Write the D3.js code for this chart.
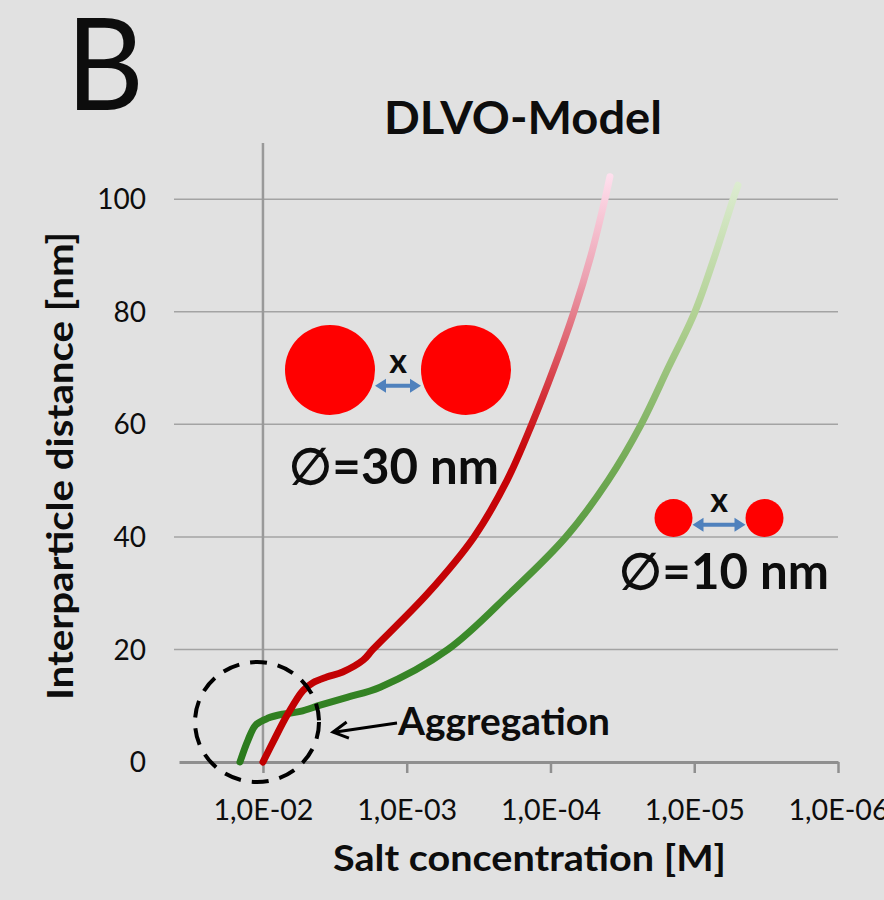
<!DOCTYPE html>
<html>
<head>
<meta charset="utf-8">
<script src="https://cdn.jsdelivr.net/npm/d3@7"></script>
<style>
  html, body { margin: 0; padding: 0; background: #e1e1e1; }
  text { font-family: Lato, "Open Sans", sans-serif; fill: #0d0d0d; }
</style>
</head>
<body>
<div id="my_dataviz"></div>
<script>
// salt concentration [M] and interparticle distance [nm]
let conc30 = [1.0e-2, 8.26e-3, 6.8e-3, 5.27e-3, 4.49e-3, 3.6e-3, 2.79e-3, 2.01e-3, 1.72e-3, 7.11e-4,
    3.40e-4, 2.01e-4, 1.35e-4, 9.46e-5, 6.87e-5, 5.23e-5, 4.18e-5, 3.86e-5];
let dist30 = [0, 4.2, 8.3, 12.7, 14.1, 15.1, 16.0, 18.1, 20, 30,
    40, 50, 60, 70, 80, 90, 100, 104];

let conc10 = [1.445e-2, 1.27e-2, 1.12e-2, 9.2e-3, 7.3e-3, 5.5e-3, 4.0e-3, 2.6e-3, 1.53e-3, 5.16e-4,
    1.91e-4, 7.80e-5, 3.98e-5, 2.34e-5, 1.52e-5, 9.89e-6, 7.18e-6, 5.37e-6, 4.96e-6];
let dist10 = [0, 3.9, 6.6, 7.8, 8.5, 9.0, 10.1, 11.5, 13.3, 20,
    30, 40, 50, 60, 70, 80, 90, 100, 102.5];

let xTicks = [1e-2, 1e-3, 1e-4, 1e-5, 1e-6];
let xTickLabels = ["1,0E-02", "1,0E-03", "1,0E-04", "1,0E-05", "1,0E-06"];
let yTicks = [0, 20, 40, 60, 80, 100];

let margin = {top: 143, right: 46, bottom: 138, left: 179},
    width = 884 - margin.left - margin.right,
    height = 900 - margin.top - margin.bottom;

let root = d3.select("#my_dataviz")
    .append("svg")
    .attr("width", 884)
    .attr("height", 900);

root.append("rect").attr("width", 884).attr("height", 900).attr("fill", "#e1e1e1");

let svg = root.append("g")
    .attr("transform", "translate(" + margin.left + "," + margin.top + ")");

let x = d3.scaleLog()
    .domain([Math.pow(10, -1.416), 1e-6])
    .range([0, width]);

let y = d3.scaleLinear()
    .domain([0, 110])
    .range([height, 0]);

// gridlines
svg.append("g")
    .selectAll("line")
    .data(yTicks.filter(d => d > 0))
    .enter()
    .append("line")
    .attr("x1", -5).attr("x2", width)
    .attr("y1", d => y(d)).attr("y2", d => y(d))
    .attr("stroke", "#a3a3a3")
    .attr("stroke-width", 1.5);

// y tick labels
svg.append("g")
    .selectAll("text")
    .data(yTicks)
    .enter()
    .append("text")
    .attr("x", -33)
    .attr("y", d => y(d))
    .attr("dy", "0.36em")
    .attr("text-anchor", "end")
    .style("font-size", "28px")
    .text(d => d);

// vertical axis line at 1E-02
svg.append("line")
    .attr("x1", x(1e-2)).attr("x2", x(1e-2))
    .attr("y1", 0).attr("y2", height)
    .attr("stroke", "#999999")
    .attr("stroke-width", 2.5);

// x axis
let xAxis = svg.append("g")
    .attr("transform", "translate(0," + height + ")")
    .call(d3.axisBottom(x)
        .tickValues(xTicks)
        .tickSize(11)
        .tickSizeOuter(0)
        .tickPadding(26)
        .tickFormat((d, i) => xTickLabels[i]));
xAxis.select(".domain").attr("stroke", "#8f8f8f").attr("stroke-width", 3);
xAxis.selectAll(".tick line").attr("stroke", "#8f8f8f").attr("stroke-width", 2.5);
xAxis.selectAll(".tick text")
    .style("font-family", "Lato, sans-serif")
    .style("font-size", "29px")
    .attr("fill", "#0d0d0d")
    .attr("textLength", 100)
    .attr("lengthAdjust", "spacingAndGlyphs");

// gradients for the curves
let defs = root.append("defs");
function addGradient(id, stops) {
    let g = defs.append("linearGradient")
        .attr("id", id)
        .attr("gradientUnits", "userSpaceOnUse")
        .attr("x1", 0).attr("x2", 0)
        .attr("y1", y(0)).attr("y2", y(105));
    stops.forEach(s => g.append("stop").attr("offset", s[0]).attr("stop-color", s[1]));
}
addGradient("gradRed", [[0, "#c00000"], [0.52, "#c70408"], [0.62, "#d43038"], [0.82, "#eca2b2"], [1, "#ffe2f0"]]);
addGradient("gradGreen", [[0, "#2a7a1c"], [0.25, "#3e8c2c"], [0.5, "#72aa55"], [0.75, "#b0d092"], [1, "#e0eed6"]]);

let line = d3.line()
    .x(d => x(d[0]))
    .y(d => y(d[1]))
    .curve(d3.curveCatmullRom.alpha(0.5));

svg.append("path")
    .datum(d3.zip(conc10, dist10))
    .attr("d", line)
    .attr("fill", "none")
    .attr("stroke", "url(#gradGreen)")
    .attr("stroke-width", 7)
    .attr("stroke-linecap", "round");

svg.append("path")
    .datum(d3.zip(conc30, dist30))
    .attr("d", line)
    .attr("fill", "none")
    .attr("stroke", "url(#gradRed)")
    .attr("stroke-width", 7)
    .attr("stroke-linecap", "round");

// aggregation annotation
svg.append("ellipse")
    .attr("cx", x(1.1e-2)).attr("cy", y(7.1))
    .attr("rx", 62).attr("ry", 60)
    .attr("fill", "none")
    .attr("stroke", "#000")
    .attr("stroke-width", 4)
    .attr("stroke-dasharray", "17,11");

let tail = [218, y(7.1) + 1], tip = [154, y(5.3)];
let ang = Math.atan2(tail[1] - tip[1], tail[0] - tip[0]);
let wing = a => [tip[0] + 17 * Math.cos(ang + a), tip[1] + 17 * Math.sin(ang + a)];
svg.append("line")
    .attr("x1", tail[0]).attr("y1", tail[1])
    .attr("x2", tip[0] + 1).attr("y2", tip[1])
    .attr("stroke", "#000")
    .attr("stroke-width", 3);
svg.append("path")
    .attr("d", "M" + wing(0.5) + " L" + tip + " L" + wing(-0.5))
    .attr("fill", "none")
    .attr("stroke", "#000")
    .attr("stroke-width", 3)
    .attr("stroke-linejoin", "miter");

svg.append("text")
    .attr("x", 219).attr("y", y(7.1) + 13)
    .style("font-size", "38px")
    .style("font-weight", "bold")
    .attr("textLength", 212)
    .attr("lengthAdjust", "spacingAndGlyphs")
    .text("Aggregation");

// particle sketches
function particles(cx, cy, r, gap, label, lx, ly) {
    let g = root.append("g");
    g.append("circle").attr("cx", cx - gap / 2 - r).attr("cy", cy).attr("r", r).attr("fill", "#ff0000");
    g.append("circle").attr("cx", cx + gap / 2 + r).attr("cy", cy).attr("r", r).attr("fill", "#ff0000");
    let ay = cy + Math.min(r * 0.35, 16);
    let hw = gap / 2;
    g.append("line")
        .attr("x1", cx - hw + 8).attr("x2", cx + hw - 8)
        .attr("y1", ay).attr("y2", ay)
        .attr("stroke", "#4f81bd").attr("stroke-width", 4);
    g.append("path")
        .attr("d", `M${cx - hw},${ay} l11,-7 l0,14 Z M${cx + hw},${ay} l-11,-7 l0,14 Z`)
        .attr("fill", "#4f81bd");
    g.append("text")
        .attr("x", cx).attr("y", ay - 13)
        .attr("text-anchor", "middle")
        .style("font-size", "34px")
        .style("font-weight", "bold")
        .text("x");
    g.append("text")
        .attr("x", lx).attr("y", ly)
        .style("font-size", "50px")
        .style("font-weight", "bold")
        .attr("textLength", 210)
        .attr("lengthAdjust", "spacingAndGlyphs")
        .text(label);
}
particles(398, 370, 45, 46, "\u2205=30 nm", 289, 484);
particles(719, 518, 19, 53, "\u2205=10 nm", 619, 589);

// titles
root.append("text")
    .attr("x", 66).attr("y", 110)
    .style("font-size", "128px")
    .attr("textLength", 78)
    .attr("lengthAdjust", "spacingAndGlyphs")
    .text("B");

root.append("text")
    .attr("x", 384).attr("y", 134)
    .style("font-size", "45px")
    .style("font-weight", "bold")
    .attr("textLength", 278)
    .attr("lengthAdjust", "spacingAndGlyphs")
    .text("DLVO-Model");

root.append("text")
    .attr("x", 333).attr("y", 871)
    .style("font-size", "37px")
    .style("font-weight", "bold")
    .attr("textLength", 393)
    .attr("lengthAdjust", "spacingAndGlyphs")
    .text("Salt concentration [M]");

root.append("text")
    .attr("transform", "translate(73,700) rotate(-90)")
    .style("font-size", "37px")
    .style("font-weight", "bold")
    .attr("textLength", 468)
    .attr("lengthAdjust", "spacingAndGlyphs")
    .text("Interparticle distance [nm]");
</script>
</body>
</html>
